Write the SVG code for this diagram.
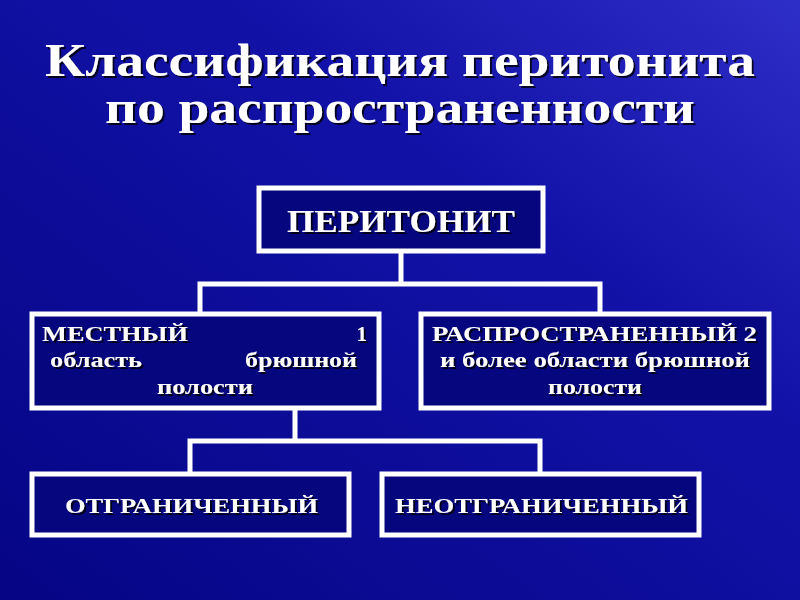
<svg xmlns="http://www.w3.org/2000/svg" width="800" height="600" viewBox="0 0 800 600">
<defs>
<linearGradient id="bg" x1="1" y1="0" x2="0" y2="1">
<stop offset="0" stop-color="#2e2ec8"/>
<stop offset="0.35" stop-color="#1212a8"/>
<stop offset="1" stop-color="#050585"/>
</linearGradient>
<filter id="sh" x="-5%" y="-20%" width="110%" height="140%">
<feDropShadow dx="2" dy="2" stdDeviation="0.5" flood-color="#000" flood-opacity="0.8"/>
</filter>
<style>
.box{fill:#06067e;stroke:#fff;stroke-width:5}
.ln{fill:none;stroke:#fff;stroke-width:5}
text{font-family:"Liberation Serif","Times New Roman",serif;font-weight:bold;fill:#fff;filter:url(#sh)}
.t{font-size:46px}
.s{font-size:21px}
</style>
</defs>
<rect width="800" height="600" fill="url(#bg)"/>
<g id="title">
<text class="t" x="45" y="76" textLength="710" lengthAdjust="spacingAndGlyphs">Классификация перитонита</text>
<text class="t" x="105" y="123" textLength="590" lengthAdjust="spacingAndGlyphs">по распространенности</text>
</g>
<g id="connectors">
<path class="ln" d="M401 252V284M200 315V284H600V315"/>
<path class="ln" d="M295 409V441M190 473V441H540V473"/>
</g>
<g id="peritonit">
<rect class="box" x="259" y="188" width="284" height="63"/>
<text x="287" y="232" font-size="32" textLength="228" lengthAdjust="spacingAndGlyphs">ПЕРИТОНИТ</text>
</g>
<g id="mestny">
<rect class="box" x="32" y="314" width="347" height="94"/>
<text class="s" x="42" y="341" textLength="146" lengthAdjust="spacingAndGlyphs">МЕСТНЫЙ</text>
<text class="s" x="367" y="341" text-anchor="end">1</text>
<text class="s" x="50" y="367" textLength="92" lengthAdjust="spacingAndGlyphs">область</text>
<text class="s" x="245" y="367" textLength="112" lengthAdjust="spacingAndGlyphs">брюшной</text>
<text class="s" x="157" y="394" textLength="96" lengthAdjust="spacingAndGlyphs">полости</text>
</g>
<g id="rasprost">
<rect class="box" x="421" y="314" width="348" height="94"/>
<text class="s" x="432" y="341" textLength="325" lengthAdjust="spacingAndGlyphs">РАСПРОСТРАНЕННЫЙ 2</text>
<text class="s" x="440" y="367" textLength="310" lengthAdjust="spacingAndGlyphs">и более области брюшной</text>
<text class="s" x="548" y="394" textLength="94" lengthAdjust="spacingAndGlyphs">полости</text>
</g>
<g id="otgr">
<rect class="box" x="32" y="474" width="317" height="61"/>
<text class="s" x="65" y="513" textLength="253" lengthAdjust="spacingAndGlyphs">ОТГРАНИЧЕННЫЙ</text>
</g>
<g id="neotgr">
<rect class="box" x="382" y="474" width="317" height="61"/>
<text class="s" x="395" y="513" textLength="293" lengthAdjust="spacingAndGlyphs">НЕОТГРАНИЧЕННЫЙ</text>
</g>
</svg>
